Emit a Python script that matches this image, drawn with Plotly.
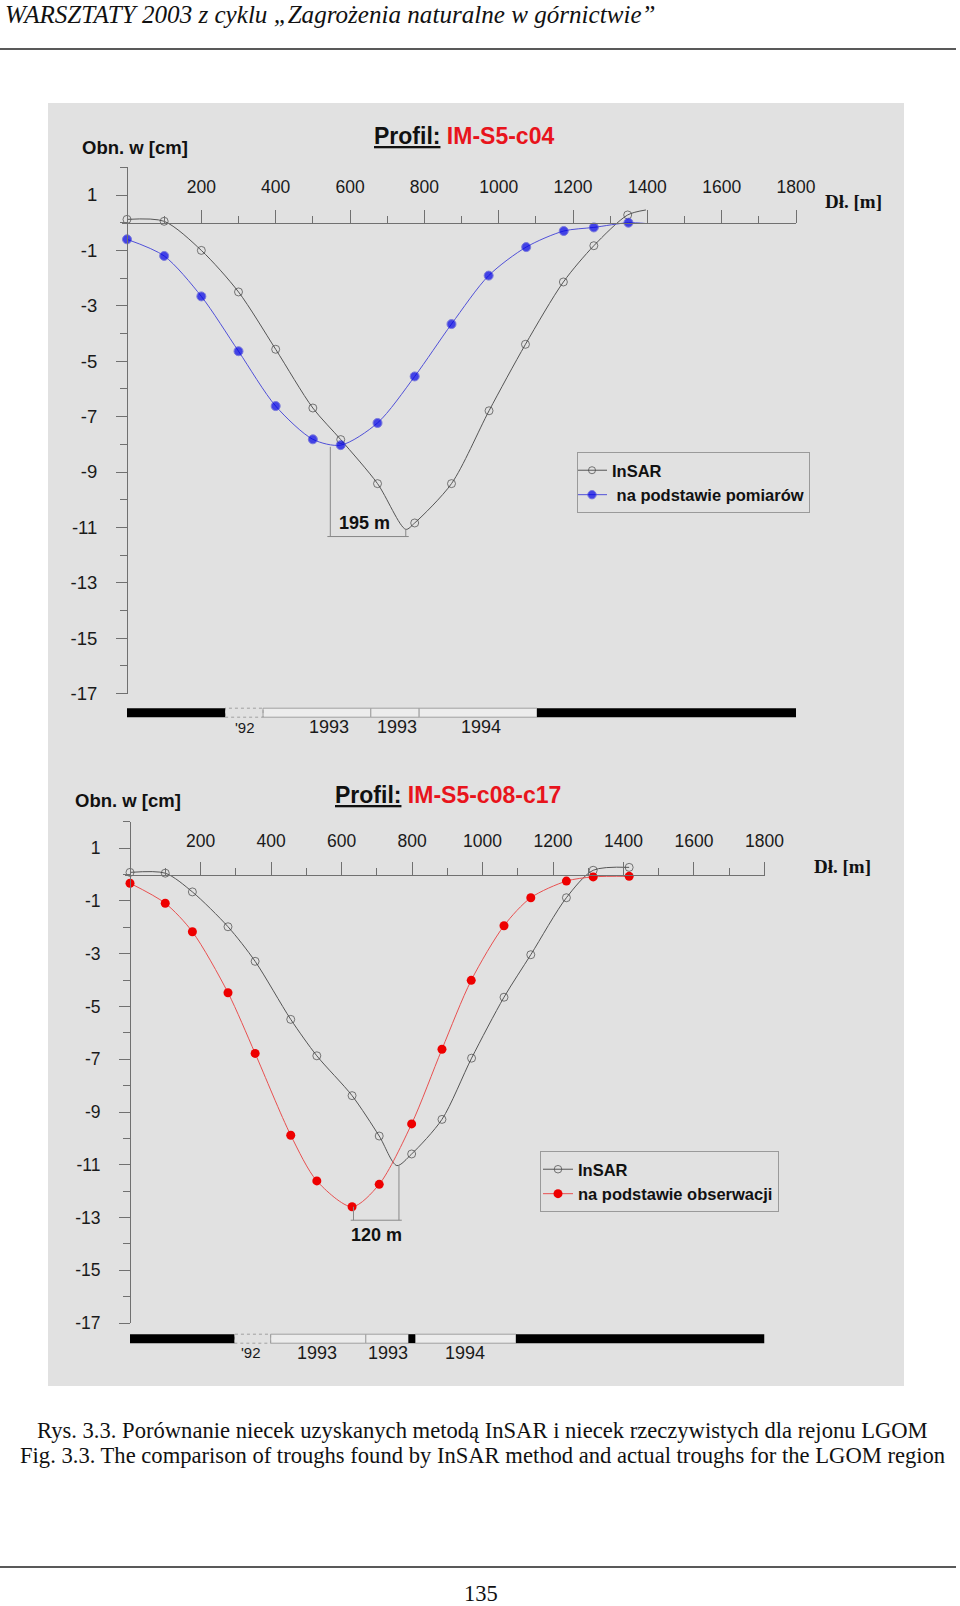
import plotly.graph_objects as go

W, H = 960, 1606

# ---------------- data ----------------
# Profile IM-S5-c04 (top)
top_insar_x = [0, 100, 200, 300, 400, 500, 575, 674, 750, 774, 873, 974, 1072, 1174, 1256, 1347, 1396]
top_insar_y = [0.12, 0.05, -1.0, -2.5, -4.57, -6.69, -7.83, -9.42, -11.07, -10.84, -9.42, -6.79, -4.39, -2.14, -0.83, 0.28, 0.46]
top_insar_marked = [1, 1, 1, 1, 1, 1, 1, 1, 0, 1, 1, 1, 1, 1, 1, 1, 0]

top_meas_x = [0, 100, 200, 300, 400, 500, 575, 674, 774, 873, 973, 1074, 1175, 1256, 1349, 1396]
top_meas_y = [-0.6, -1.2, -2.66, -4.64, -6.62, -7.82, -8.03, -7.23, -5.55, -3.66, -1.91, -0.88, -0.30, -0.17, 0.0, -0.03]
top_meas_marked = [1, 1, 1, 1, 1, 1, 1, 1, 1, 1, 1, 1, 1, 1, 1, 0]

# Profile IM-S5-c08-c17 (bottom)
bot_insar_x = [0, 100, 177, 278, 355, 456, 530, 630, 707, 757, 799, 885, 969, 1061, 1137, 1238, 1314, 1416]
bot_insar_y = [0.08, 0.05, -0.66, -1.98, -3.29, -5.49, -6.87, -8.38, -9.91, -11.03, -10.59, -9.28, -6.96, -4.65, -3.04, -0.88, 0.16, 0.27]
bot_insar_marked = [1, 1, 1, 1, 1, 1, 1, 1, 1, 0, 1, 1, 1, 1, 1, 1, 1, 1]

bot_obs_x = [0, 100, 177, 278, 355, 456, 530, 630, 707, 799, 885, 968, 1061, 1137, 1238, 1314, 1416]
bot_obs_y = [-0.33, -1.09, -2.17, -4.48, -6.78, -9.88, -11.61, -12.59, -11.74, -9.45, -6.62, -4.01, -1.94, -0.88, -0.25, -0.09, -0.07]

# offset between trough bottoms (dimension lines)
top_dim = dict(x0=547, x1=750, y_a=-8.09, y_b=-11.07, y_base=-11.33, label="195 m", lx=640, ly=-10.83)
bot_dim = dict(x0=634, x1=763, y_a=-12.59, y_b=-11.03, y_base=-13.1, label="120 m", lx=700, ly=-13.66)

# time bars under the profiles [start, end] in metres
tl1_black = [[0, 264], [1103, 1800]]
tl1_dashed = [[264, 366]]
tl1_light = [[366, 656], [656, 786], [786, 1103]]
tl1_labels = ["'92", "1993", "1993", "1994"]
tl1_label_x = [317, 543, 726, 952]

tl2_black = [[0, 296], [790, 809], [1095, 1800]]
tl2_dashed = [[296, 399]]
tl2_light = [[399, 669], [669, 790], [809, 1095]]
tl2_labels = ["'92", "1993", "1993", "1994"]
tl2_label_x = [342, 530, 733, 950]

x_major = [200, 400, 600, 800, 1000, 1200, 1400, 1600, 1800]
x_minor = [100, 300, 500, 700, 900, 1100, 1300, 1500, 1700]
y_major = [1, -1, -3, -5, -7, -9, -11, -13, -15, -17]
y_minor = [2, 0, -2, -4, -6, -8, -10, -12, -14, -16]

# ---------------- layout helpers ----------------
def px(x):
    return x / W

def py(y):
    return 1 - y / H

SANS = "Liberation Sans"
SERIF = "Liberation Serif"
AX = "#707070"
PANEL = "#e1e1e1"

# pixel geometry of the two plot areas
G1 = dict(x0=127, sx=0.3717, y0=222.7, sy=27.7, tl=712.7, tlab=727, xstand=10, yfont=18.5)
G2 = dict(x0=130, sx=0.3525, y0=874.5, sy=26.39, tl=1338.7, tlab=1352.7, xstand=8, yfont=17.5)
XMIN, XMAX, YMIN, YMAX = -14, 1800, -17, 2

fig = go.Figure()


def sizes(flags, s):
    return [s if f else 0 for f in flags]


# top traces
fig.add_trace(go.Scatter(
    x=top_insar_x, y=top_insar_y, mode="lines+markers", name="InSAR",
    line=dict(color="#555555", width=1, shape="spline", smoothing=0.8),
    marker=dict(symbol="circle-open", size=sizes(top_insar_marked, 8), color="#444444", line=dict(width=1)),
    xaxis="x", yaxis="y", legend="legend", cliponaxis=False))
fig.add_trace(go.Scatter(
    x=top_meas_x, y=top_meas_y, mode="lines+markers", name=" na podstawie pomiarów",
    line=dict(color="#5050d8", width=1, shape="spline", smoothing=0.8),
    marker=dict(symbol="circle", size=sizes(top_meas_marked, 9), color="#0000e8"),
    xaxis="x", yaxis="y", legend="legend", cliponaxis=False))

# bottom traces
fig.add_trace(go.Scatter(
    x=bot_insar_x, y=bot_insar_y, mode="lines+markers", name="InSAR",
    line=dict(color="#555555", width=1, shape="spline", smoothing=0.8),
    marker=dict(symbol="circle-open", size=sizes(bot_insar_marked, 8), color="#444444", line=dict(width=1)),
    xaxis="x2", yaxis="y2", legend="legend2", cliponaxis=False))
fig.add_trace(go.Scatter(
    x=bot_obs_x, y=bot_obs_y, mode="lines+markers", name="na podstawie obserwacji",
    line=dict(color="#e85050", width=1, shape="spline", smoothing=0.8),
    marker=dict(symbol="circle", size=9, color="#ee0000"),
    xaxis="x2", yaxis="y2", legend="legend2", cliponaxis=False))


def xaxis_def(g):
    left = g["x0"] + XMIN * g["sx"]
    right = g["x0"] + XMAX * g["sx"]
    return dict(
        range=[XMIN, XMAX], domain=[px(left), px(right)], anchor="free", position=py(g["y0"]),
        side="top", showline=True, linecolor=AX, linewidth=1, showgrid=False, zeroline=False,
        automargin=False,
        ticks="outside", ticklen=13, tickwidth=1, tickcolor=AX, tickmode="array", tickvals=x_major,
        ticktext=[str(v) for v in x_major], ticklabelstandoff=g["xstand"],
        tickfont=dict(family=SANS, size=17.5, color="#1a1a1a"),
        minor=dict(tickmode="array", tickvals=x_minor, ticks="outside", ticklen=7, tickwidth=1, tickcolor=AX),
        fixedrange=True)


def yaxis_def(g):
    top = g["y0"] - YMAX * g["sy"]
    bottom = g["y0"] - YMIN * g["sy"]
    return dict(
        range=[YMIN, YMAX], domain=[py(bottom), py(top)], anchor="free", position=px(g["x0"]),
        showline=True, linecolor=AX, linewidth=1, showgrid=False, zeroline=False,
        automargin=False,
        ticks="outside", ticklen=11, tickwidth=1, tickcolor=AX, tickmode="array", tickvals=y_major,
        ticktext=[str(v) for v in y_major], ticklabelstandoff=15,
        tickfont=dict(family=SANS, size=g["yfont"], color="#1a1a1a"),
        minor=dict(tickmode="array", tickvals=y_minor, ticks="outside", ticklen=7, tickwidth=1, tickcolor=AX),
        fixedrange=True)


shapes = []
annotations = []

# grey panel
shapes.append(dict(type="rect", xref="paper", yref="paper", x0=px(48), x1=px(904), y0=py(1386), y1=py(103),
                   fillcolor=PANEL, line=dict(width=0), layer="below"))
# page rules
shapes.append(dict(type="line", xref="paper", yref="paper", x0=0, x1=px(956), y0=py(49), y1=py(49),
                   line=dict(color="#222", width=1.5)))
shapes.append(dict(type="line", xref="paper", yref="paper", x0=0, x1=px(956), y0=py(1567), y1=py(1567),
                   line=dict(color="#222", width=1.5)))


def timeline(xr, g, black, dashed, light, labels, label_x):
    c0, c1 = py(g["tl"] + 4.5), py(g["tl"] - 4.5)
    for a, b in light:
        shapes.append(dict(type="rect", xref=xr, yref="paper", x0=a, x1=b, y0=c0, y1=c1,
                           fillcolor="#ececec", line=dict(color="#a0a0a0", width=1)))
    for a, b in dashed:
        shapes.append(dict(type="rect", xref=xr, yref="paper", x0=a, x1=b, y0=c0, y1=c1,
                           fillcolor="rgba(0,0,0,0)", line=dict(color="#a0a0a0", width=1, dash="dot")))
    for a, b in black:
        shapes.append(dict(type="rect", xref=xr, yref="paper", x0=a, x1=b, y0=c0, y1=c1,
                           fillcolor="#000000", line=dict(color="#000000", width=0)))
    for t, x in zip(labels, label_x):
        annotations.append(dict(xref=xr, yref="paper", x=x, y=py(g["tlab"]), text=t, showarrow=False,
                                xanchor="center", yanchor="middle",
                                font=dict(family=SANS, size=15 if t.startswith("'") else 18, color="#1a1a1a")))


timeline("x", G1, tl1_black, tl1_dashed, tl1_light, tl1_labels, tl1_label_x)
timeline("x2", G2, tl2_black, tl2_dashed, tl2_light, tl2_labels, tl2_label_x)


def dimension(xr, yr, d):
    for x, y in ((d["x0"], d["y_a"]), (d["x1"], d["y_b"])):
        shapes.append(dict(type="line", xref=xr, yref=yr, x0=x, x1=x, y0=y, y1=d["y_base"],
                           line=dict(color="#888888", width=1)))
    shapes.append(dict(type="line", xref=xr, yref=yr, x0=d["x0"] - 8, x1=d["x1"] + 8, y0=d["y_base"], y1=d["y_base"],
                       line=dict(color="#888888", width=1)))
    annotations.append(dict(xref=xr, yref=yr, x=d["lx"], y=d["ly"], text="<b>%s</b>" % d["label"], showarrow=False,
                            font=dict(family=SANS, size=18, color="#111")))


dimension("x", "y", top_dim)
dimension("x2", "y2", bot_dim)


def titles(code, tx, ty, ox, oy, dx, dy):
    annotations.append(dict(xref="paper", yref="paper", x=px(tx), y=py(ty), xanchor="left", yanchor="middle",
                            text="<b><u>Profil:</u> <span style='color:#e8141c'>%s</span></b>" % code,
                            showarrow=False, font=dict(family=SANS, size=23, color="#111")))
    annotations.append(dict(xref="paper", yref="paper", x=px(ox), y=py(oy), xanchor="left", yanchor="middle",
                            text="<b>Obn. w [cm]</b>", showarrow=False, font=dict(family=SANS, size=18.5, color="#111")))
    annotations.append(dict(xref="paper", yref="paper", x=px(dx), y=py(dy), xanchor="left", yanchor="middle",
                            text="<b>Dł. [m]</b>", showarrow=False, font=dict(family=SERIF, size=19, color="#111")))


titles("IM-S5-c04", 372, 136, 80, 147, 823, 201)
titles("IM-S5-c08-c17", 333, 795, 73, 800, 812, 866)

# page texts
annotations.append(dict(xref="paper", yref="paper", x=px(4), y=py(0), xanchor="left", yanchor="top",
                        text="<i>WARSZTATY 2003 z cyklu „Zagrożenia naturalne w górnictwie”</i>", showarrow=False,
                        font=dict(family=SERIF, size=25.1, color="#111"), borderpad=0))
annotations.append(dict(xref="paper", yref="paper", x=px(482), y=py(1430), xanchor="center", yanchor="middle",
                        text="Rys. 3.3. Porównanie niecek uzyskanych metodą InSAR i niecek rzeczywistych dla rejonu LGOM",
                        showarrow=False, font=dict(family=SERIF, size=22.6, color="#111")))
annotations.append(dict(xref="paper", yref="paper", x=px(482), y=py(1455), xanchor="center", yanchor="middle",
                        text="Fig. 3.3. The comparison of troughs found by InSAR method and actual troughs for the LGOM region",
                        showarrow=False, font=dict(family=SERIF, size=22.6, color="#111")))
annotations.append(dict(xref="paper", yref="paper", x=px(481), y=py(1593), xanchor="center", yanchor="middle",
                        text="135", showarrow=False, font=dict(family=SERIF, size=22.5, color="#111")))

legend_common = dict(xanchor="left", yanchor="top", bgcolor=PANEL, bordercolor="#9a9a9a", borderwidth=1,
                     font=dict(family=SANS, size=16.5, color="#111", weight=700), itemwidth=30,
                     tracegroupgap=0)

fig.update_layout(
    width=W, height=H, autosize=False, margin=dict(l=0, r=0, t=0, b=0, autoexpand=False),
    paper_bgcolor="white", plot_bgcolor="rgba(0,0,0,0)",
    xaxis=xaxis_def(G1), yaxis=yaxis_def(G1),
    xaxis2=xaxis_def(G2), yaxis2=yaxis_def(G2),
    legend=dict(x=px(577), y=py(452), indentation=-6, **legend_common),
    legend2=dict(x=px(540), y=py(1151), indentation=-3, **legend_common),
    shapes=shapes, annotations=annotations,
    showlegend=True,
)

fig.write_html("out.html", config={"displayModeBar": False},
               post_script="document.body.style.margin='0';document.body.style.overflow='hidden';")
